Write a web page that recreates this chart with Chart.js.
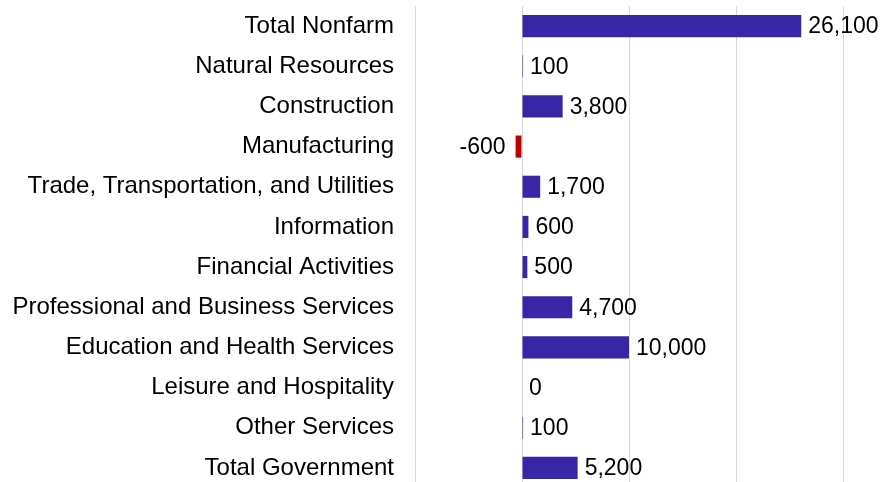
<!DOCTYPE html>
<html>
<head>
<meta charset="utf-8">
<script src="https://cdn.jsdelivr.net/npm/chart.js@4"></script>
<style>
  html, body { margin: 0; padding: 0; background: #fff; overflow: hidden; }
  #wrap { width: 885px; height: 490px; }
</style>
</head>
<body>
<div id="wrap"><canvas id="chart"></canvas></div>
<script>
const categories = [
  'Total Nonfarm',
  'Natural Resources',
  'Construction',
  'Manufacturing',
  'Trade, Transportation, and Utilities',
  'Information',
  'Financial Activities',
  'Professional and Business Services',
  'Education and Health Services',
  'Leisure and Hospitality',
  'Other Services',
  'Total Government'
];
const jobChange = [26100, 100, 3800, -600, 1700, 600, 500, 4700, 10000, 0, 100, 5200];
const axisMin = -10000;
const axisMax = 30000;
const axisStep = 10000;

const POS_COLOR = '#3826A6';
const NEG_COLOR = '#C00000';
const FONT = "'Liberation Sans', Arial, sans-serif";

// draws the value next to the end of each bar
const barLabels = {
  id: 'barLabels',
  afterDatasetsDraw(chart) {
    const ctx = chart.ctx;
    const meta = chart.getDatasetMeta(0);
    ctx.save();
    ctx.font = '23px ' + FONT;
    ctx.fillStyle = '#000';
    ctx.textBaseline = 'middle';
    meta.data.forEach((bar, i) => {
      const v = jobChange[i];
      const txt = v.toLocaleString('en-US');
      if (v < 0) {
        ctx.textAlign = 'right';
        ctx.fillText(txt, bar.x - 10, bar.y + 1);
      } else {
        ctx.textAlign = 'left';
        ctx.fillText(txt, Math.max(bar.x, bar.base) + 7, bar.y + 1);
      }
    });
    ctx.restore();
  }
};

new Chart(document.getElementById('chart'), {
  type: 'bar',
  data: {
    labels: categories,
    datasets: [{
      data: jobChange,
      backgroundColor: jobChange.map(v => v < 0 ? NEG_COLOR : POS_COLOR),
      borderWidth: 0,
      barPercentage: 0.55,
      categoryPercentage: 1
    }]
  },
  options: {
    indexAxis: 'y',
    responsive: true,
    maintainAspectRatio: false,
    animation: false,
    layout: { padding: { top: 6, right: 42, bottom: 2, left: 0 } },
    plugins: {
      legend: { display: false },
      tooltip: { enabled: false }
    },
    scales: {
      x: {
        min: axisMin,
        max: axisMax,
        ticks: { display: false, stepSize: axisStep },
        grid: { color: '#D9D9D9', lineWidth: 1, drawTicks: false },
        border: { display: false },
        afterFit: s => { s.height = 0; s.paddingLeft = 0; s.paddingRight = 0; }
      },
      y: {
        ticks: {
          color: '#000',
          padding: 21,
          font: { family: FONT, size: 24 }
        },
        grid: { display: false, drawTicks: false },
        border: { display: false },
        afterFit: s => { s.width = 415; s.paddingTop = 0; s.paddingBottom = 0; }
      }
    }
  },
  plugins: [barLabels]
});
</script>
</body>
</html>
